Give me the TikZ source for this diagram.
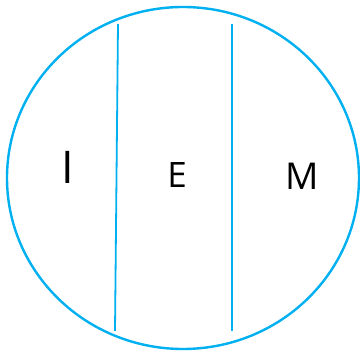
\documentclass[tikz,border=0pt]{standalone}
\usepackage{fontspec}
\setmainfont{Open Sans}
\usepackage{xcolor}
\usetikzlibrary{positioning}
\definecolor{skyline}{HTML}{00B0F0}

\begin{document}
\begin{tikzpicture}[
  x=1pt, y=1pt,
  rim/.style={draw=skyline, line width=2.4pt},
  divider/.style={draw=skyline, line width=1.8pt},
  letter/.style={inner sep=0pt, text=black}
]
\useasboundingbox (0,0) rectangle (360,351);
\draw[rim] (183,173) ellipse [x radius=176, y radius=171];

\coordinate (lefttop) at (118,327);
\coordinate (leftbot) at (115,20);
\coordinate (righttop) at (232,327);
\coordinate (rightbot) at (232,20);
\draw[divider] (lefttop) -- (leftbot);
\draw[divider] (righttop) -- (rightbot);

\node[letter, font=\fontsize{45}{45}\selectfont] (id) at (68,184) {I};
\node[letter, font=\fontsize{35}{35}\selectfont] (ego) at (177,176) {E};
\node[letter, font=\fontsize{37}{37}\selectfont] (me) at (302,175) {M};
\end{tikzpicture}
\end{document}
